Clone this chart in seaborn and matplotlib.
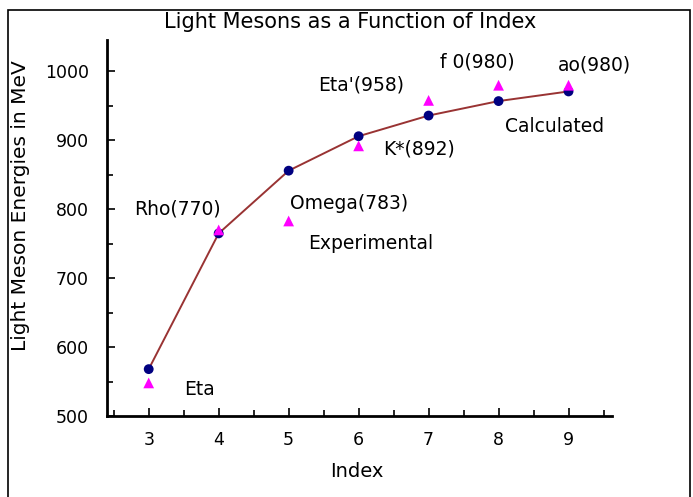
import pandas as pd
import matplotlib.pyplot as plt
import seaborn as sns
from matplotlib.patches import Rectangle
from matplotlib.ticker import MultipleLocator

index = [3, 4, 5, 6, 7, 8, 9]
calculated = [568, 765, 856, 906, 936, 957, 971]
experimental = [548, 770, 783, 892, 958, 980, 980]
names = ['Eta', 'Rho(770)', 'Omega(783)', 'K*(892)', "Eta'(958)", 'f 0(980)', 'ao(980)']
# label centres in data units
label_x = [3.73, 3.41, 5.86, 6.87, 6.04, 7.70, 9.37]
label_y = [538, 801, 808, 888, 980, 1013, 1009]

df = pd.DataFrame({'index': index, 'calc': calculated, 'exp': experimental})

sns.set_style('white')
plt.rcParams['font.family'] = ['DejaVu Sans']
plt.rcParams['text.color'] = 'black'
plt.rcParams['axes.labelcolor'] = 'black'
plt.rcParams['xtick.color'] = 'black'
plt.rcParams['ytick.color'] = 'black'

fig = plt.figure(figsize=(6.93, 4.97), dpi=100)
ax = fig.add_axes([0.154, 0.163, 0.729, 0.757])

sns.lineplot(data=df, x='index', y='calc', ax=ax, color='#993333', lw=1.4, zorder=2)
sns.scatterplot(data=df, x='index', y='calc', ax=ax, color='#000080', s=50,
                edgecolor='none', zorder=3)
sns.scatterplot(data=df, x='index', y='exp', ax=ax, color='#ff00ff', marker='^', s=60,
                edgecolor='none', zorder=4)

for n, x, y in zip(names, label_x, label_y):
    ax.text(x, y, n, ha='center', va='center', fontsize=13.5)
ax.text(6.17, 750, 'Experimental', ha='center', va='center', fontsize=13.5)
ax.text(8.80, 920, 'Calculated', ha='center', va='center', fontsize=13.5)

ax.set_xlim(2.4, 9.62)
ax.set_ylim(500, 1046)
ax.xaxis.set_major_locator(MultipleLocator(1))
ax.xaxis.set_minor_locator(MultipleLocator(0.5))
ax.yaxis.set_major_locator(MultipleLocator(100))
ax.yaxis.set_minor_locator(MultipleLocator(50))
ax.tick_params(axis='both', which='major', direction='in', length=6, width=1.2,
               labelsize=12.5, pad=11)
ax.tick_params(axis='y', which='major', pad=13)
ax.tick_params(axis='both', which='minor', direction='in', length=4, width=1.2)
ax.tick_params(axis='y', which='both', left=True)
ax.tick_params(axis='x', which='both', bottom=True)

sns.despine(ax=ax)
for s in ['left', 'bottom']:
    ax.spines[s].set_color('black')
    ax.spines[s].set_linewidth(2)

ax.set_xlabel('Index', fontsize=14)
ax.set_ylabel('Light Meson Energies in MeV', fontsize=14.5)
ax.xaxis.set_label_coords(0.495, -0.122)
ax.yaxis.set_label_coords(-0.152, 0.56)
fig.text(0.505, 0.956, 'Light Mesons as a Function of Index', ha='center', va='center',
         fontsize=15)

fig.patches.append(Rectangle((0.012, -0.05), 0.983, 1.03, transform=fig.transFigure,
                             fill=False, edgecolor='black', lw=1.2))

fig.savefig('out.png', dpi=100)
